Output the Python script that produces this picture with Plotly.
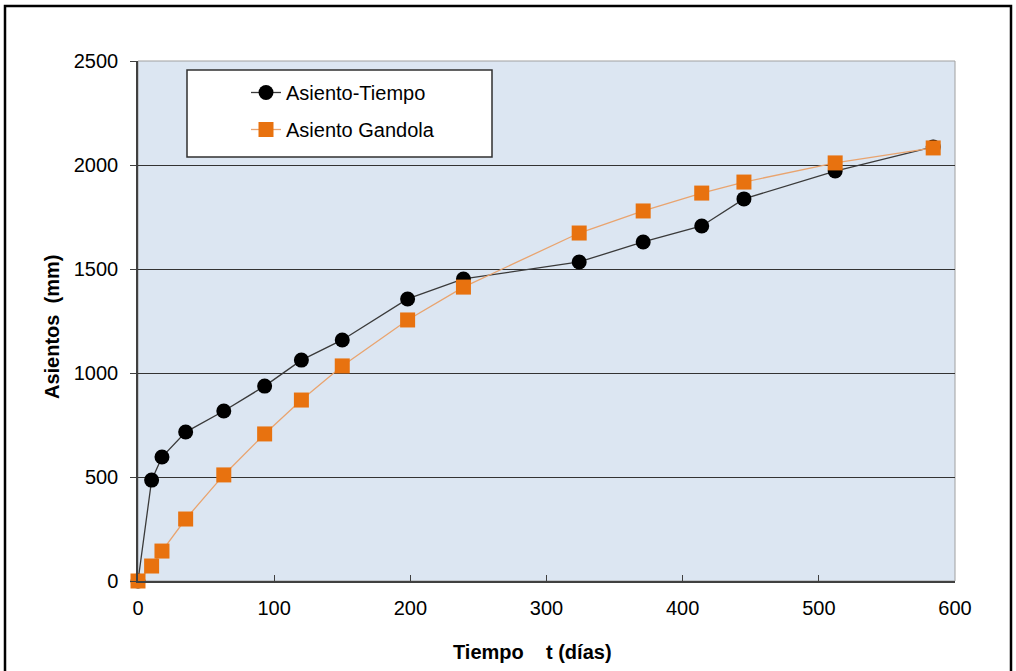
import plotly.graph_objects as go

# Data
t_days = [0, 10, 17.6, 35, 63, 93, 120, 150, 198, 239, 324, 371, 414, 445, 512, 584]
asiento_tiempo = [0, 485, 596, 716, 817, 937, 1062, 1159, 1356, 1452, 1534, 1630, 1707, 1837, 1971, 2087]
asiento_gandola = [0, 72, 144, 298, 510, 707, 870, 1034, 1255, 1413, 1673, 1779, 1865, 1918, 2010, 2082]

x_ticks = [0, 100, 200, 300, 400, 500, 600]
y_ticks = [0, 500, 1000, 1500, 2000, 2500]

W, H = 1016, 671
L, R, T, B = 138, 61, 61, 90
pw, ph = W - L - R, H - T - B

def px(x):
    return (x - L) / pw

def py(y):
    return (H - B - y) / ph

fig = go.Figure()
fig.add_trace(go.Scatter(
    x=t_days, y=asiento_tiempo, mode="lines+markers", name="Asiento-Tiempo",
    line=dict(color="#3a3a3a", width=1.3),
    marker=dict(symbol="circle", size=15, color="black"),
    legendgroup="a", cliponaxis=False,
))
fig.add_trace(go.Scatter(
    x=t_days, y=asiento_gandola, mode="lines+markers", name="Asiento Gandola",
    line=dict(color="#E9A46F", width=1.3),
    marker=dict(symbol="square", size=15, color="#E8720F"),
    legendgroup="b", cliponaxis=False,
))

fig.update_layout(
    width=W, height=H,
    margin=dict(l=L, r=R, t=T, b=B),
    paper_bgcolor="white",
    plot_bgcolor="#DCE6F2",
    font=dict(family="Liberation Sans, Arial, sans-serif", size=20, color="black"),
    showlegend=True,
    legend=dict(
        x=px(246), y=py(73), xanchor="left", yanchor="top",
        bgcolor="rgba(0,0,0,0)", borderwidth=0,
        font=dict(size=20, color="black"),
        traceorder="grouped", tracegroupgap=8,
        itemwidth=30,
    ),
    xaxis=dict(
        range=[0, 600], tickvals=x_ticks, ticktext=[str(v) for v in x_ticks],
        showgrid=False, zeroline=False,
        showline=True, linecolor="#404040", linewidth=1.5,
        ticks="inside", ticklen=6, tickcolor="#404040",
        tickfont=dict(size=20), ticklabelstandoff=8,
        mirror=False,
    ),
    yaxis=dict(
        range=[0, 2500], tickvals=y_ticks, ticktext=[str(v) for v in y_ticks],
        showgrid=True, gridcolor="#333333", gridwidth=1,
        zeroline=False,
        showline=True, linecolor="#404040", linewidth=1.5,
        ticks="outside", ticklen=6, tickcolor="#404040",
        tickfont=dict(size=20), ticklabelstandoff=8,
    ),
    shapes=[
        # light border on top and right of plot area
        dict(type="rect", xref="paper", yref="paper", x0=0, y0=0, x1=1, y1=1,
             line=dict(color="#a0a0a0", width=1), layer="below"),
        # legend box
        dict(type="rect", xref="paper", yref="paper",
             x0=px(187), x1=px(492), y0=py(157), y1=py(70),
             line=dict(color="#303030", width=1.5), fillcolor="white", layer="above"),
        # outer chart border
        dict(type="rect", xref="paper", yref="paper",
             x0=px(5), x1=px(1011), y0=py(700), y1=py(6),
             line=dict(color="black", width=2.5), fillcolor="rgba(0,0,0,0)"),
    ],
    annotations=[
        dict(text="<b>Tiempo    t (días)</b>", xref="paper", yref="paper",
             x=px(532), y=py(652), xanchor="center", yanchor="middle",
             showarrow=False, font=dict(size=20)),
        dict(text="<b>Asientos  (mm)</b>", xref="paper", yref="paper",
             x=px(52), y=py(327), xanchor="center", yanchor="middle",
             textangle=-90, showarrow=False, font=dict(size=20)),
    ],
)

fig.write_html("out.html")
